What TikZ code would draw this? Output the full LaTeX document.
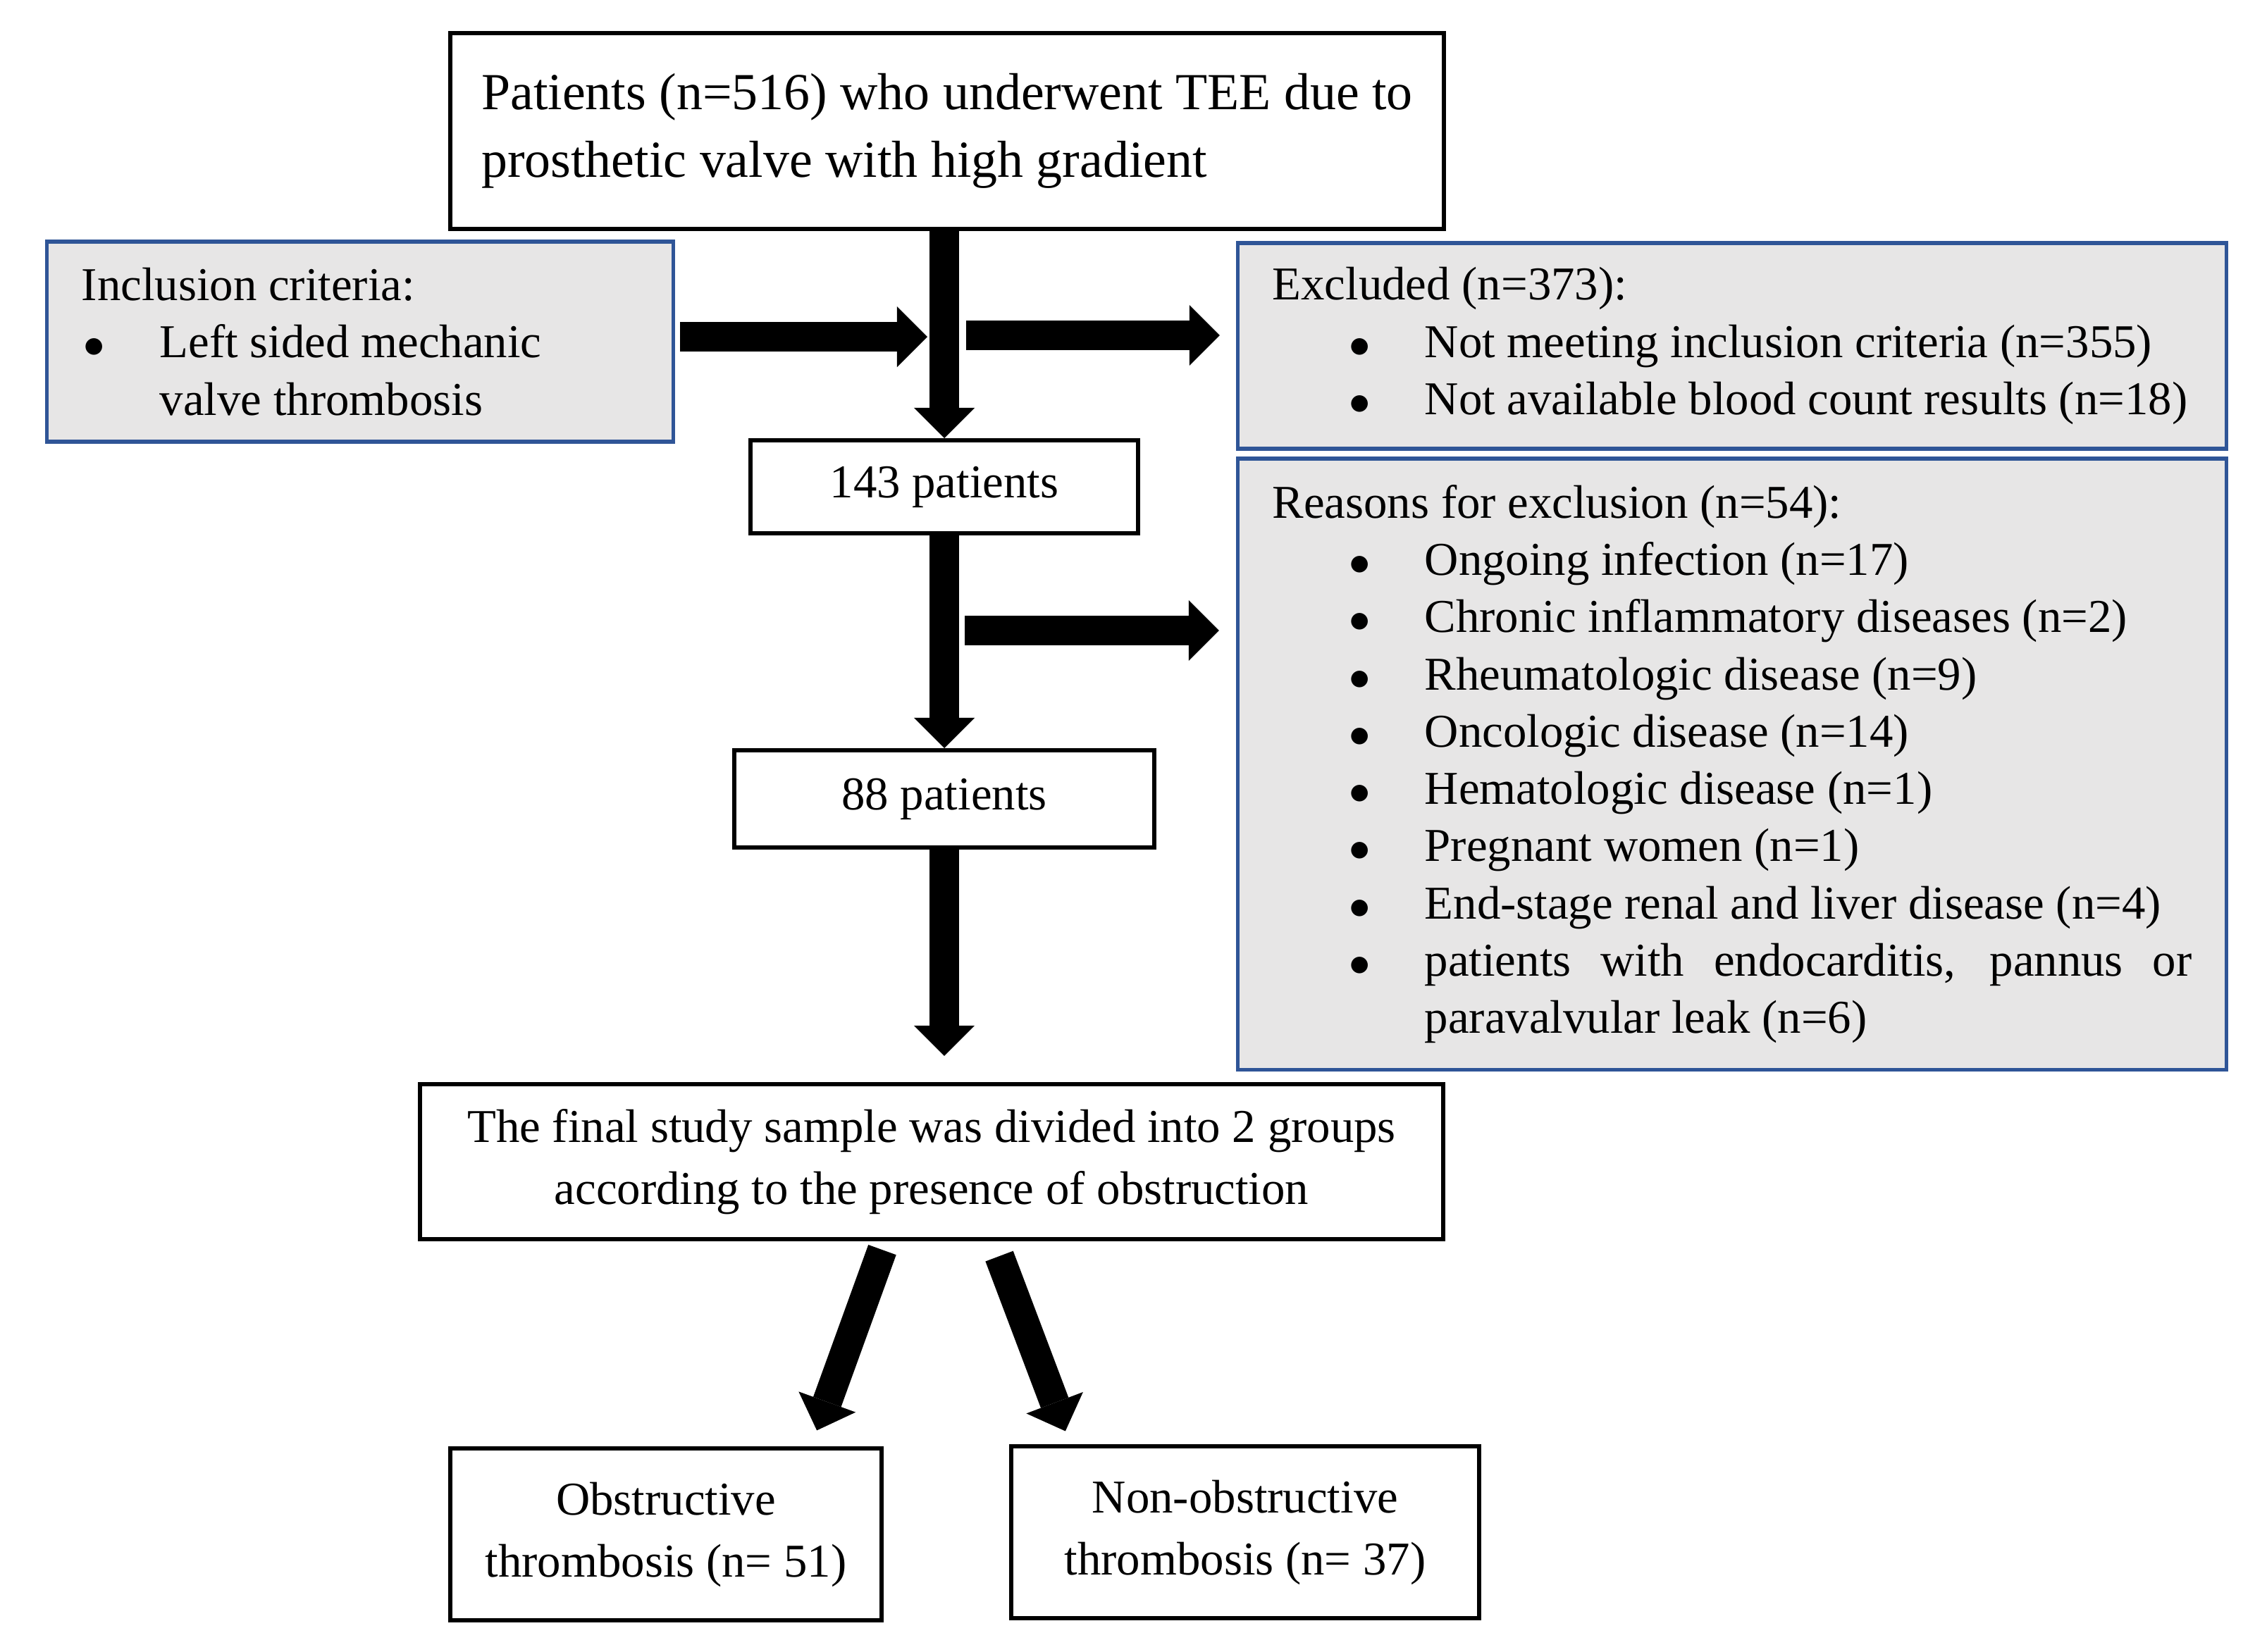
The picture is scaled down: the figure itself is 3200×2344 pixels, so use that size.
\documentclass[tikz,border=0pt]{standalone}
\usepackage{fontspec}
\setmainfont{Liberation Serif}
\usetikzlibrary{arrows.meta}
\setlength{\parindent}{0pt}
\definecolor{frameblue}{HTML}{2F5597}
\definecolor{panelgray}{HTML}{E7E6E6}
\newcommand{\chartitem}[2]{\par\hangindent=#2\hangafter=1\hspace*{#1}\rlap{$\bullet$}\hspace*{\dimexpr#2-#1\relax}\ignorespaces}
\tikzset{
  chart/box/.style={draw=black, line width=0.6mm, fill=white, inner sep=0pt, align=center, font=\fontsize{19}{25}\selectfont},
  chart/panel/.style={draw=frameblue, line width=0.55mm, fill=panelgray, inner xsep=4.9mm, inner ysep=0pt, align=justify, font=\fontsize{19}{23.1}\selectfont},
  chart/arrow/.style={line width=4.2mm, -{Triangle[width=8.6mm, length=4.3mm, line width=0pt]}}
}

\begin{document}
\begin{tikzpicture}[x=0.01cm, y=-0.01cm]
  \useasboundingbox (0,0) rectangle (3200,2344);

  % main column
  \node[chart/box, minimum width=14.1cm, minimum height=2.78cm, align=left, font=\fontsize{21}{27.3}\selectfont] (tee) at (1344,186) {Patients (n=516) who underwent TEE due to\\prosthetic valve with high gradient};
  \node[chart/box, minimum width=5.49cm, minimum height=1.32cm] (n143) at (1340,691) {143 patients};
  \node[chart/box, minimum width=5.95cm, minimum height=1.38cm] (n88) at (1340,1134) {88 patients};
  \node[chart/box, minimum width=14.51cm, minimum height=2.2cm] (final) at (1322,1649) {The final study sample was divided into 2 groups\\according to the presence of obstruction};
  \node[chart/box, minimum width=6.12cm, minimum height=2.43cm] (obst) at (945,2178) {Obstructive\\thrombosis (n= 51)};
  \node[chart/box, minimum width=6.63cm, minimum height=2.43cm] (nonobst) at (1767,2175) {Non-obstructive\\thrombosis (n= 37)};

  % side panels
  \node[chart/panel, minimum width=8.88cm, minimum height=2.84cm, text width=7.9cm] (incl) at (511,485) {Inclusion criteria:\chartitem{0.3mm}{11.1mm}Left sided mechanic\newline valve thrombosis\par};
  \node[chart/panel, minimum width=14.02cm, minimum height=2.92cm, text width=13.04cm] (excl) at (2458,491) {Excluded (n=373):\chartitem{10.9mm}{21.6mm}Not meeting inclusion criteria (n=355)\chartitem{10.9mm}{21.6mm}Not available blood count results (n=18)\par};
  \node[chart/panel, minimum width=14.02cm, minimum height=8.67cm, text width=13.04cm] (reas) at (2458,1084.5) {Reasons for exclusion (n=54):%
    \chartitem{10.9mm}{21.6mm}Ongoing infection (n=17)%
    \chartitem{10.9mm}{21.6mm}Chronic inflammatory diseases (n=2)%
    \chartitem{10.9mm}{21.6mm}Rheumatologic disease (n=9)%
    \chartitem{10.9mm}{21.6mm}Oncologic disease (n=14)%
    \chartitem{10.9mm}{21.6mm}Hematologic disease (n=1)%
    \chartitem{10.9mm}{21.6mm}Pregnant women (n=1)%
    \chartitem{10.9mm}{21.6mm}End-stage renal and liver disease (n=4)%
    \chartitem{10.9mm}{21.6mm}patients with endocarditis, pannus or\linebreak paravalvular leak (n=6)\par};

  % arrows
  \coordinate (incl-tip) at (1316,478);
  \coordinate (excl-tail) at (1371,476);
  \coordinate (reas-tail) at (1369,895);
  \draw[chart/arrow] (tee.south -| n143) -- (n143.north);
  \draw[chart/arrow] ([xshift=0.7mm]incl.east |- incl-tip) -- (incl-tip);
  \draw[chart/arrow] (excl-tail) -- ([xshift=-2.3mm]excl.west |- excl-tail);
  \draw[chart/arrow] (n143.south) -- (n88.north);
  \draw[chart/arrow] (reas-tail) -- ([xshift=-2.4mm]reas.west |- reas-tail);
  \draw[chart/arrow] (n88.south) -- ([yshift=3.7mm]n88.south |- final.north);
  \draw[chart/arrow] ([xshift=-7mm,yshift=-1.2mm]final.south) -- ([xshift=21.4mm,yshift=2.3mm]obst.north);
  \draw[chart/arrow] ([xshift=9.6mm,yshift=-2.1mm]final.south) -- ([xshift=-25.5mm,yshift=1.9mm]nonobst.north);
\end{tikzpicture}
\end{document}
